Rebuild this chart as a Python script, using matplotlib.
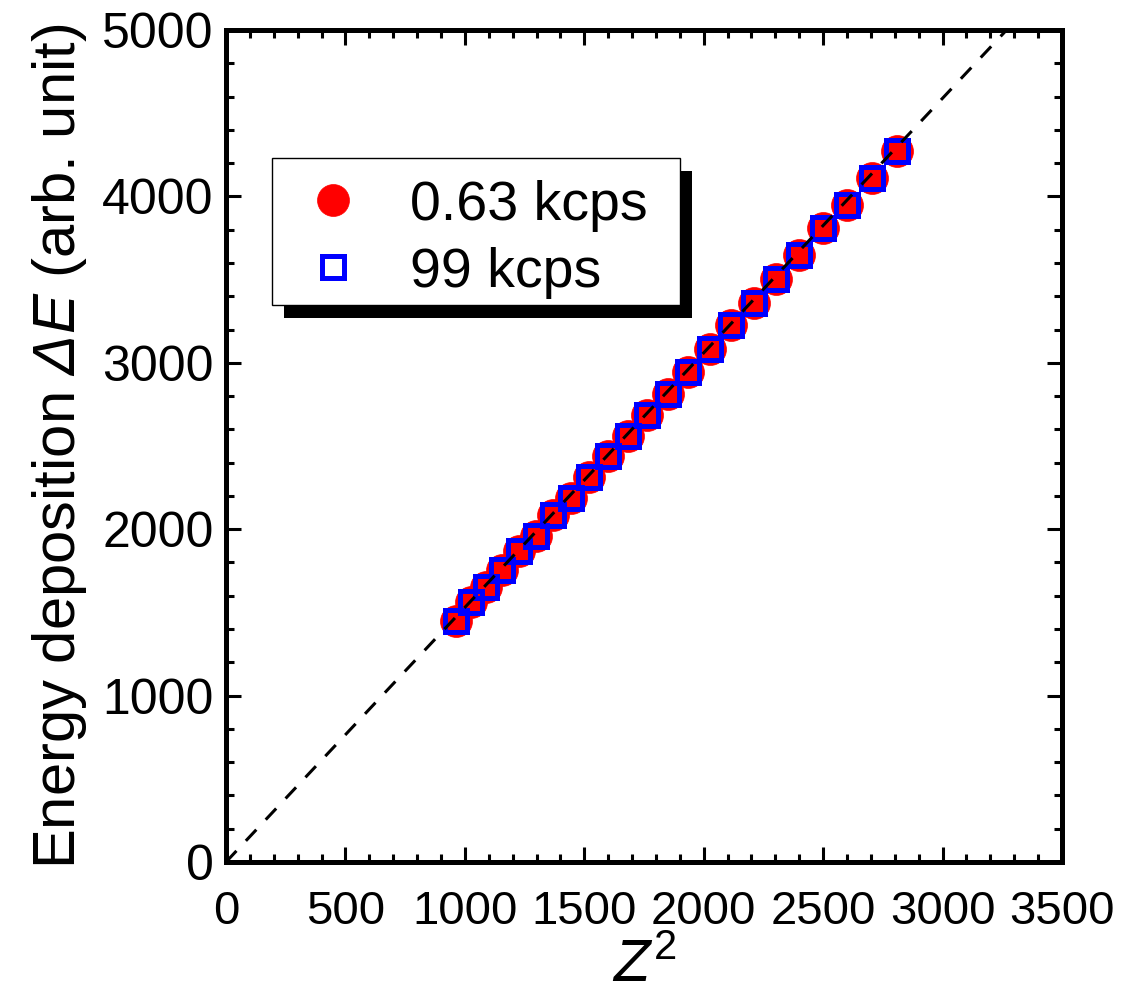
import matplotlib
matplotlib.use("Agg")
import matplotlib.pyplot as plt
from matplotlib.patches import Rectangle
import numpy as np

plt.rcParams['font.family'] = ['Liberation Sans', 'DejaVu Sans']
plt.rcParams['mathtext.fontset'] = 'custom'
plt.rcParams['mathtext.rm'] = 'Liberation Sans:italic'
plt.rcParams['mathtext.it'] = 'Liberation Sans:italic'
plt.rcParams['mathtext.sf'] = 'Liberation Sans'

# ---- data ----
z_values = list(range(31, 54))
z_squared = [z * z for z in z_values]
energy_063kcps = [1450, 1565, 1655, 1755, 1870, 1960, 2085, 2190, 2315, 2440, 2560, 2685,
                  2815, 2945, 3085, 3225, 3360, 3505, 3650, 3810, 3950, 4110, 4270]
energy_99kcps = [1450, 1565, 1655, 1755, 1870, 1960, 2085, 2190, 2315, 2440, 2560, 2685,
                 2815, 2945, 3085, 3225, 3360, 3505, 3650, 3810, 3950, 4110, 4270]
fit_slope = 1.53
fit_x = [0, 5000 / fit_slope]
fit_y = [fit_slope * v for v in fit_x]

series_labels = ['0.63 kcps', '99 kcps']
x_ticks = [0, 500, 1000, 1500, 2000, 2500, 3000, 3500]
y_ticks = [0, 1000, 2000, 3000, 4000, 5000]

W, H = 1122, 993
AX_L, AX_R, AX_T, AX_B = 226, 1062, 30, 862

fig = plt.figure(figsize=(W / 100, H / 100), dpi=100)
ax = fig.add_axes([AX_L / W, 1 - AX_B / H, (AX_R - AX_L) / W, (AX_B - AX_T) / H])

circle_style = dict(linestyle='none', marker='o', markersize=23, markerfacecolor='red',
                    markeredgecolor='red', markeredgewidth=0.5)
square_style = dict(linestyle='none', marker='s', markersize=16.5, markerfacecolor='none',
                    markeredgecolor='blue', markeredgewidth=3.6)

ax.plot(z_squared, energy_063kcps, label=series_labels[0], zorder=2, **circle_style)
ax.plot(z_squared, energy_99kcps, label=series_labels[1], zorder=3, **square_style)
ax.plot(fit_x, fit_y, color='black', linewidth=2.2, linestyle=(0, (5, 4.5)), zorder=4)

ax.set_xlim(0, 3500)
ax.set_ylim(0, 5000)
ax.set_xticks(x_ticks)
ax.set_yticks(y_ticks)
ax.set_xticks(np.arange(0, 3501, 100), minor=True)
ax.set_yticks(np.arange(0, 5001, 200), minor=True)

for s in ax.spines.values():
    s.set_linewidth(3.6)
ax.tick_params(which='both', direction='in', top=True, right=True, width=2.2)
ax.tick_params(which='major', length=11)
ax.tick_params(which='minor', length=5.5)
ax.tick_params(axis='x', which='major', labelsize=34, pad=20)
ax.tick_params(axis='y', which='major', labelsize=36, pad=9)

ax.set_xlabel(r'$Z^{\mathsf{2}}$', fontsize=43, labelpad=4)
ax.set_ylabel(r'Energy deposition $\Delta E$ (arb. unit)', fontsize=43, labelpad=9)

# ---- legend (drawn in axes fraction coordinates) ----
def afx(px):
    return (px - AX_L) / (AX_R - AX_L)

def afy(py):
    return (AX_B - py) / (AX_B - AX_T)

box_l, box_r, box_t, box_b = 272, 680, 158, 305
shadow_dx, shadow_dy = 12, 13
ax.add_patch(Rectangle((afx(box_l + shadow_dx), afy(box_b + shadow_dy)),
                       afx(box_r) - afx(box_l), afy(box_t) - afy(box_b),
                       transform=ax.transAxes, facecolor='black', edgecolor='none',
                       zorder=10, clip_on=False))
ax.add_patch(Rectangle((afx(box_l), afy(box_b)),
                       afx(box_r) - afx(box_l), afy(box_t) - afy(box_b),
                       transform=ax.transAxes, facecolor='white', edgecolor='black',
                       linewidth=1.0, zorder=11, clip_on=False))
row_y = [200, 267]
styles = [circle_style, square_style]
for label, style, ry in zip(series_labels, styles, row_y):
    ax.plot([afx(333)], [afy(ry)], transform=ax.transAxes, zorder=12, clip_on=False, **style)
    ax.text(afx(410), afy(ry), label, transform=ax.transAxes, fontsize=40,
            ha='left', va='center_baseline', zorder=12)

fig.savefig('out.png', dpi=100)
